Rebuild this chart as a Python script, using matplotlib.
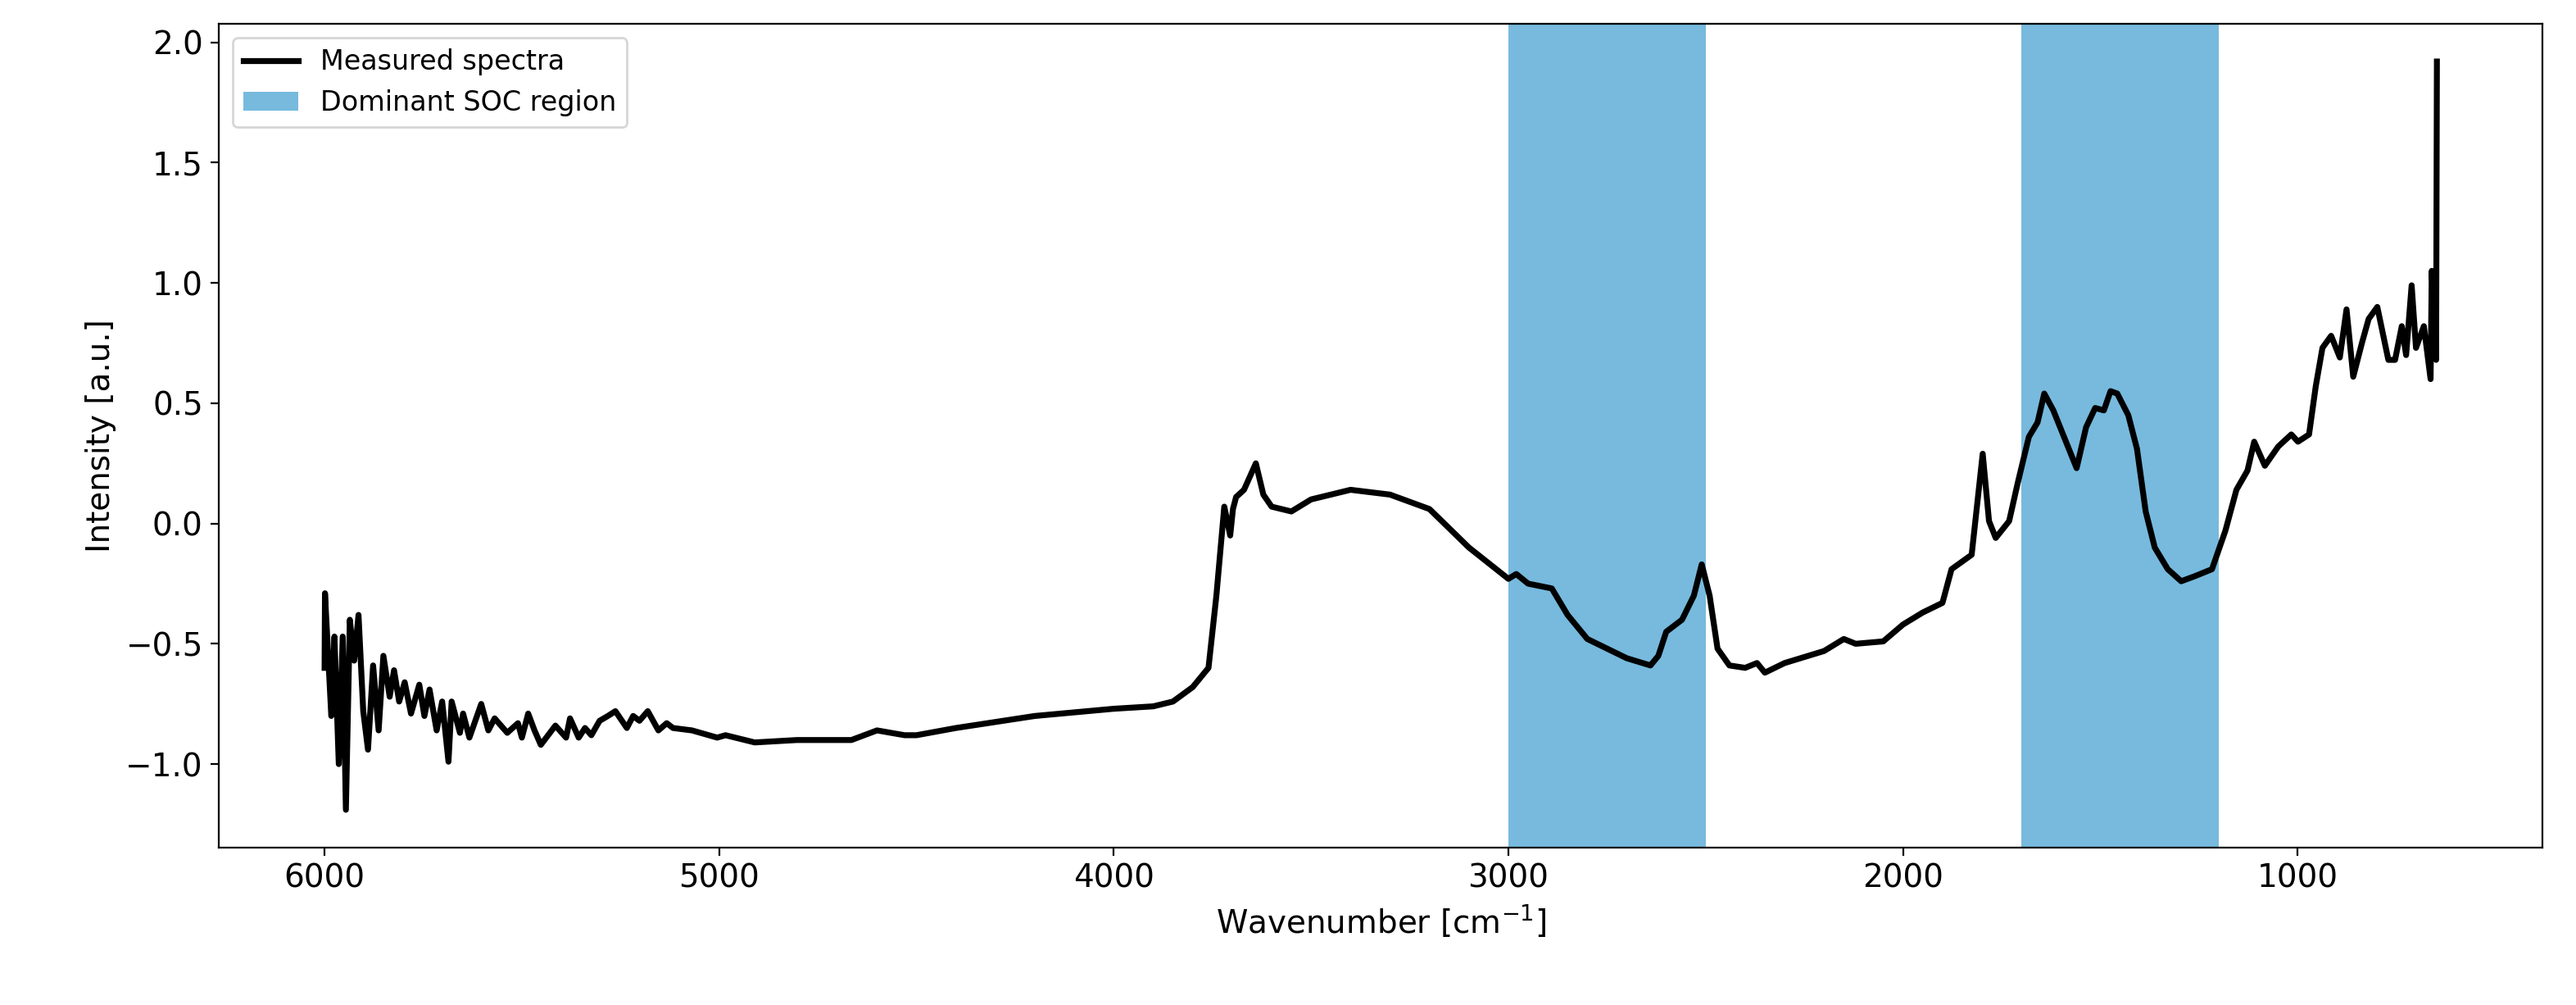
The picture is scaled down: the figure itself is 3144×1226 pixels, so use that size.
import matplotlib.pyplot as plt

# spectrum (wavenumber in cm^-1, intensity in a.u.)
wavenumber = [6000, 5999, 5983, 5975, 5964, 5954, 5946, 5936, 5925, 5914, 5902, 5890, 5877, 5863,
              5851, 5835, 5824, 5811, 5797, 5781, 5760, 5747, 5734, 5716, 5702, 5686, 5678, 5657,
              5649, 5633, 5603, 5585, 5569, 5537, 5510, 5500, 5484, 5468, 5452, 5415, 5388, 5378,
              5356, 5340, 5324, 5303, 5282, 5263, 5234, 5218, 5202, 5181, 5154, 5133, 5117, 5069,
              5005, 4984, 4910, 4803, 4665, 4600, 4530, 4500, 4400, 4200, 4000, 3900, 3850, 3800,
              3760, 3740, 3720, 3705, 3698, 3690, 3670, 3640, 3621, 3600, 3550, 3500, 3450, 3400,
              3300, 3200, 3100, 3000, 2980, 2950, 2890, 2850, 2800, 2700, 2640, 2620, 2600, 2560,
              2530, 2510, 2490, 2470, 2440, 2400, 2370, 2350, 2300, 2200, 2150, 2120, 2050, 2000,
              1950, 1900, 1877, 1826, 1798, 1782, 1765, 1731, 1709, 1681, 1659, 1642, 1619, 1592,
              1560, 1536, 1513, 1491, 1474, 1457, 1429, 1407, 1385, 1362, 1329, 1295, 1262, 1217,
              1183, 1155, 1127, 1110, 1083, 1049, 1016, 999, 971, 954, 937, 915, 893, 876, 859,
              837, 820, 798, 770, 753, 736, 725, 711, 700, 680, 663, 660, 649, 647]
intensity = [-0.6, -0.29, -0.80, -0.47, -1.0, -0.47, -1.19, -0.40, -0.57, -0.38, -0.78, -0.94, -0.59, -0.86,
             -0.55, -0.72, -0.61, -0.74, -0.66, -0.79, -0.67, -0.80, -0.69, -0.86, -0.74, -0.99, -0.74,
             -0.87, -0.79, -0.89, -0.75, -0.86, -0.81, -0.87, -0.83, -0.89, -0.79, -0.86, -0.92, -0.84,
             -0.89, -0.81, -0.89, -0.85, -0.88, -0.82, -0.80, -0.78, -0.85, -0.80, -0.82, -0.78, -0.86,
             -0.83, -0.85, -0.86, -0.89, -0.88, -0.91, -0.90, -0.90, -0.86, -0.88, -0.88, -0.85, -0.80,
             -0.77, -0.76, -0.74, -0.68, -0.60, -0.30, 0.07, -0.05, 0.06, 0.11, 0.14, 0.25, 0.12, 0.07,
             0.05, 0.10, 0.12, 0.14, 0.12, 0.06, -0.10, -0.23, -0.21, -0.25, -0.27, -0.38, -0.48, -0.56,
             -0.59, -0.55, -0.45, -0.40, -0.30, -0.17, -0.30, -0.52, -0.59, -0.60, -0.58, -0.62, -0.58,
             -0.53, -0.48, -0.50, -0.49, -0.42, -0.37, -0.33, -0.19, -0.13, 0.29, 0.01, -0.06, 0.01, 0.17,
             0.36, 0.42, 0.54, 0.47, 0.36, 0.23, 0.40, 0.48, 0.47, 0.55, 0.54, 0.45, 0.31, 0.05, -0.10,
             -0.19, -0.24, -0.22, -0.19, -0.03, 0.14, 0.22, 0.34, 0.24, 0.32, 0.37, 0.34, 0.37, 0.57,
             0.73, 0.78, 0.69, 0.89, 0.61, 0.75, 0.85, 0.90, 0.68, 0.68, 0.82, 0.70, 0.99, 0.73, 0.82,
             0.60, 1.05, 0.68, 1.92]

soc_regions = [(3000, 2500), (1700, 1200)]

fig = plt.figure(figsize=(15.72, 6.13), dpi=200)
ax = fig.add_axes([0.085, 0.157, 0.902, 0.819])
ax.plot(wavenumber, intensity, color='black', lw=2.6, label='Measured spectra')
for i, (hi, lo) in enumerate(soc_regions):
    ax.axvspan(lo, hi, color='#77bade', lw=0, label='Dominant SOC region' if i == 0 else None)
ax.invert_xaxis()
ax.set_xlabel('Wavenumber [cm$^{-1}$]', fontsize=14)
ax.set_ylabel('Intensity [a.u.]', fontsize=14)
ax.tick_params(labelsize=14)
ax.legend(loc='upper left', fontsize=12)
fig.savefig('out.png')
